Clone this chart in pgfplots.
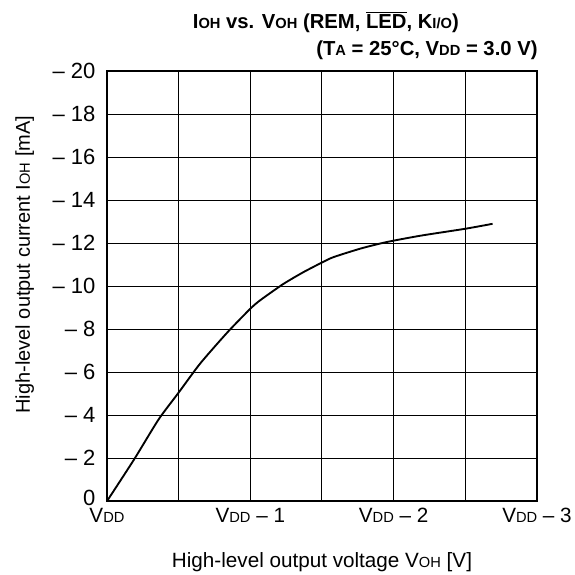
\documentclass[border=0pt]{standalone}
\usepackage{pgfplots}
\pgfplotsset{compat=1.18}
\usepackage{fontspec}
\setmainfont{Liberation Sans}
\newcommand{\sm}[1]{{\fontsize{11}{11}\selectfont #1}}
\begin{document}
\fontsize{15.5}{18}\selectfont
\begin{tikzpicture}
\begin{axis}[
  width=322.5pt, height=322.5pt, scale only axis,
  xmin=0, xmax=3, ymin=0, ymax=20,
  xtick={0,1,2,3}, minor xtick={0.5,1.5,2.5},
  xticklabels={V\sm{DD}, V\sm{DD} -- 1, V\sm{DD} -- 2, V\sm{DD} -- 3},
  ytick={0,2,4,6,8,10,12,14,16,18,20},
  yticklabels={\raisebox{5pt}{0},-- 2,-- 4,-- 6,-- 8,-- 10,-- 12,-- 14,-- 16,-- 18,-- 20},
  /pgf/number format/assume math mode=true,
  grid=both,
  major grid style={black, line width=0.75pt},
  minor grid style={black, line width=0.75pt},
  major tick length=0pt, minor tick length=0pt,
  axis line style={line width=1.6pt},
  xticklabel style={font=\fontsize{15.5}{18}\selectfont, inner sep=1pt, yshift=-4.2pt},
  yticklabel style={font=\fontsize{16.5}{19}\selectfont, inner sep=1pt, xshift=-7.5pt},
  xlabel={High-level output voltage V\sm{OH} [V]},
  ylabel={High-level output current I\sm{OH} [mA]},
  xlabel style={font=\fontsize{15.5}{18}\selectfont,
    at={(axis description cs:0.5,-0.103)}, anchor=north},
  ylabel style={font=\fontsize{15}{18}\selectfont,
    at={(axis description cs:-0.153,0.55)}, anchor=south},
  clip=false,
]
\addplot[black, line width=1.4pt, smooth, tension=0.4] coordinates {
(0,0) (0.19,1.95) (0.36,3.8) (0.5,5.05) (0.65,6.4) (0.84,7.85)
(1.0,8.95) (1.07,9.35) (1.23,10.1) (1.37,10.65) (1.5,11.1)
(1.58,11.35) (1.77,11.75) (1.95,12.05) (2.19,12.35) (2.5,12.67) (2.69,12.9)
};
\node[anchor=base, inner xsep=0pt, font=\bfseries\fontsize{15.2}{18}\selectfont, yshift=32.25pt]
  at (axis description cs:0.509,1) {I\sm{OH} vs. V\sm{OH} (REM, $\overline{\mbox{LED}}$, K\sm{I/O})};
\node[anchor=base east, inner xsep=0pt, font=\bfseries\fontsize{15.2}{18}\selectfont, yshift=12pt]
  at (axis description cs:1.002,1) {(T\sm{A} = 25°C, V\sm{DD} = 3.0 V)};
\coordinate (bbl) at (axis description cs:-0.2488,-0.170);
\coordinate (btr) at (axis description cs:1.0884,1.1655);
\end{axis}
\pgfresetboundingbox
\path[use as bounding box] (bbl) rectangle (btr);
\end{tikzpicture}
\end{document}
